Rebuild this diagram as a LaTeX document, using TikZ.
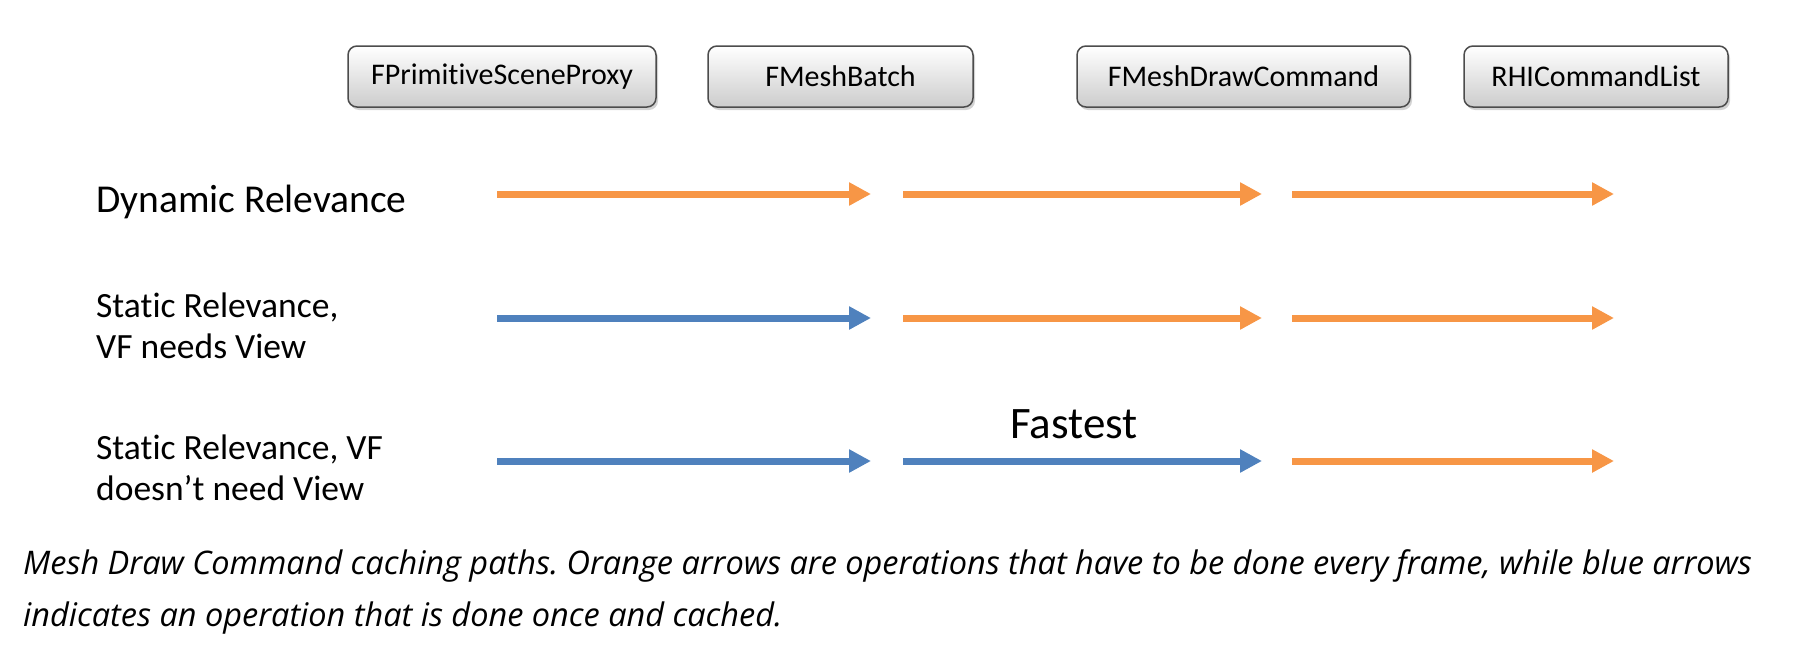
\documentclass[tikz,border=0pt]{standalone}
\usepackage{fontspec}
\setmainfont[Ligatures=NoCommon]{Carlito}
\newfontfamily\capfont{Open Sans}
\usetikzlibrary{arrows.meta,shadows}
\definecolor{frameorange}{HTML}{F79646}
\definecolor{cachedblue}{HTML}{4F81BD}
\frenchspacing

\begin{document}
\begin{tikzpicture}[x=1pt, y=-1pt,
    lbl/.style={font=\fontsize{35.5}{41}\selectfont, align=left, anchor=west, inner sep=0pt},
    cls/.style={draw=black!70, line width=1.5pt, rounded corners=9pt,
        top color=white, bottom color=black!20, minimum height=61pt,
        font=\fontsize{30}{36}\selectfont,
        drop shadow={opacity=0.35, shadow xshift=2pt, shadow yshift=-3pt}},
    op/.style={line width=7pt, -{Triangle[width=22pt,length=22pt]}}
]

\useasboundingbox (0,0) rectangle (1793,656);

% data structures along the pipeline
\node[cls, minimum width=308pt] (proxy) at (502,76.5) {FPrimitiveSceneProxy};
\node[cls, minimum width=265pt] (batch) at (840.5,76.5) {FMeshBatch};
\node[cls, minimum width=333pt] (cmd) at (1243.5,76.5) {FMeshDrawCommand};
\node[cls, minimum width=264pt] (rhi) at (1596,76.5) {RHICommandList};

% row labels
\node[lbl, font=\fontsize{39.5}{41}\selectfont] (dyn) at (96,202) {Dynamic Relevance};
\node[lbl] (stat) at (96,326) {Static Relevance,\\VF needs View};
\node[lbl] (statnv) at (96,468) {Static Relevance, VF\\doesn’t need View};
\node[font=\fontsize{45}{50}\selectfont, inner sep=0pt] (fast) at (1074,424) {Fastest};

% arrow ends
\coordinate (d0) at (497,194);  \coordinate (d1) at (871,194);
\coordinate (d2) at (903,194);  \coordinate (d3) at (1262,194);
\coordinate (d4) at (1292,194); \coordinate (d5) at (1614,194);
\coordinate (s0) at (497,318);  \coordinate (s1) at (871,318);
\coordinate (s2) at (903,318);  \coordinate (s3) at (1262,318);
\coordinate (s4) at (1292,318); \coordinate (s5) at (1614,318);
\coordinate (n0) at (497,461);  \coordinate (n1) at (871,461);
\coordinate (n2) at (903,461);  \coordinate (n3) at (1262,461);
\coordinate (n4) at (1292,461); \coordinate (n5) at (1614,461);

\draw[op, frameorange] (d0) -- (d1);
\draw[op, frameorange] (d2) -- (d3);
\draw[op, frameorange] (d4) -- (d5);
\draw[op, cachedblue] (s0) -- (s1);
\draw[op, frameorange] (s2) -- (s3);
\draw[op, frameorange] (s4) -- (s5);
\draw[op, cachedblue] (n0) -- (n1);
\draw[op, cachedblue] (n2) -- (n3);
\draw[op, frameorange] (n4) -- (n5);

% caption
\node[anchor=west, align=left, inner sep=0pt,
    font=\capfont\itshape\fontsize{32.5}{52}\selectfont] (caption) at (23,592)
    {Mesh Draw Command caching paths. Orange arrows are operations that have to be done every frame, while blue arrows\\
     indicates an operation that is done once and cached.};

\end{tikzpicture}
\end{document}
